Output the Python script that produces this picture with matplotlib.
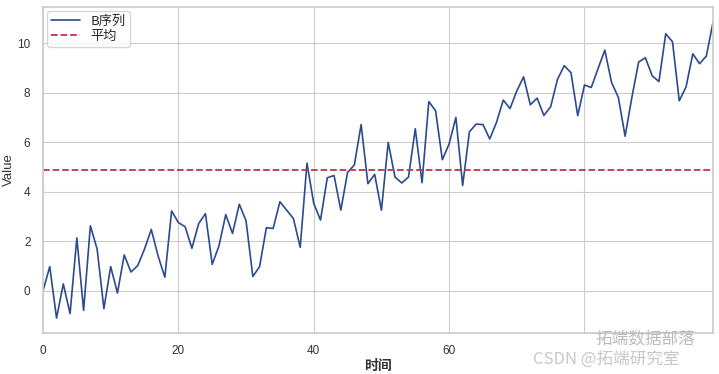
import numpy as np
import matplotlib
matplotlib.use("Agg")
import matplotlib.pyplot as plt
import seaborn as sns

values = [0.0, 0.98, -1.1, 0.28, -0.92, 2.14, -0.79, 2.63, 1.68, -0.72,
          0.98, -0.09, 1.45, 0.76, 1.02, 1.69, 2.48, 1.41, 0.55, 3.23,
          2.76, 2.59, 1.72, 2.72, 3.12, 1.07, 1.82, 3.08, 2.32, 3.5,
          2.83, 0.58, 0.98, 2.55, 2.52, 3.6, 3.26, 2.92, 1.76, 5.16,
          3.53, 2.86, 4.57, 4.66, 3.26, 4.79, 5.09, 6.72, 4.33, 4.71,
          3.26, 6.0, 4.6, 4.36, 4.6, 6.55, 4.37, 7.65, 7.28, 5.3,
          5.94, 7.01, 4.26, 6.43, 6.74, 6.72, 6.14, 6.81, 7.71, 7.37,
          8.08, 8.65, 7.52, 7.79, 7.09, 7.44, 8.54, 9.1, 8.82, 7.08,
          8.32, 8.22, 8.98, 9.73, 8.42, 7.82, 6.25, 7.82, 9.25, 9.42,
          8.69, 8.46, 10.39, 10.07, 7.68, 8.24, 9.58, 9.18, 9.49, 10.87]
time = np.arange(len(values))
series_label = "B序列"
mean_label = "平均"
xtick_pos = [0, 20, 40, 60, 80]
xtick_labels = ["0", "20", "40", "60", ""]  # "80" hidden under the watermark in the reference

sns.set_theme(style="whitegrid")
plt.rcParams['font.family'] = ['Liberation Sans', 'Noto Sans CJK SC', 'DejaVu Sans']

fig = plt.figure(figsize=(7.19, 3.74), dpi=100)
ax = fig.add_axes([0.0598, 0.110, 0.932, 0.871])
ax.plot(time, values, color='#2b4a8f', lw=1.2, label=series_label)
ax.axhline(np.mean(values), color='#c0344a', ls='--', lw=1.3, label=mean_label)
ax.set_xlim(0, len(values) - 1)
ax.set_xticks(xtick_pos)
ax.set_xticklabels(xtick_labels)
ax.set_yticks([0, 2, 4, 6, 8, 10])
ax.tick_params(labelsize=8.5, colors='#333333', pad=3)
ax.set_xlabel("时间", fontsize=10, fontweight='bold', color='#333333',
              family=['Noto Sans CJK SC'], labelpad=1)
ax.set_ylabel("Value", fontsize=9.5, color='#333333', labelpad=2)
for s in ax.spines.values():
    s.set_color('#cccccc')
ax.grid(color='#cccccc', lw=0.8)
leg = ax.legend(loc='upper left', frameon=True,
                prop={'family': ['Noto Sans CJK SC'], 'size': 9.5},
                borderpad=0.3, labelspacing=0.15, handlelength=2.2,
                borderaxespad=0.3)
fig.text(0.828, 0.093, "拓端数据部落", fontsize=12, color='#bbbbbb',
         family=['Noto Sans CJK SC'], ha='left', va='center')
fig.text(0.741, 0.040, "CSDN @拓端研究室", fontsize=12, color='#c8c8c8',
         family=['Noto Sans CJK SC', 'DejaVu Sans'], ha='left', va='center')
fig.savefig("out.png", dpi=100)
